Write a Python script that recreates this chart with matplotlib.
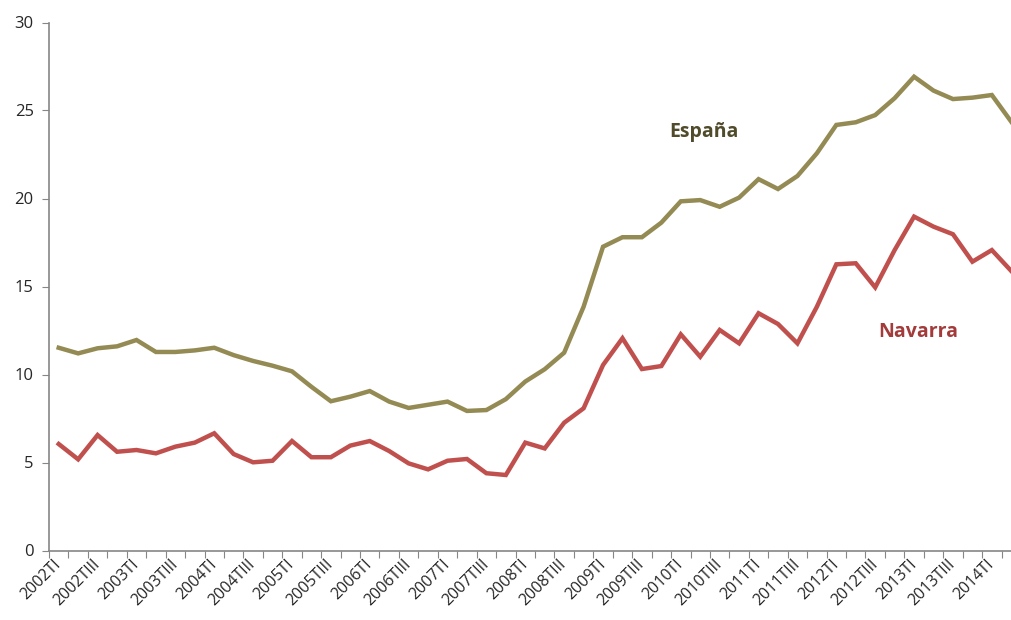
import matplotlib.pyplot as plt

# quarters 2002TI .. 2014TII
years = list(range(2002, 2015))
quarters = ["TI", "TII", "TIII", "TIV"]
periods = [f"{y}{q}" for y in years for q in quarters][:50]

espana = [11.52, 11.2, 11.49, 11.6, 11.96, 11.28, 11.28, 11.37, 11.52, 11.1,
          10.77, 10.5, 10.18, 9.3, 8.48, 8.74, 9.06, 8.46, 8.1, 8.28,
          8.46, 7.93, 7.98, 8.6, 9.6, 10.3, 11.24, 13.85, 17.26, 17.8,
          17.8, 18.63, 19.84, 19.91, 19.53, 20.05, 21.1, 20.54, 21.28, 22.57,
          24.18, 24.33, 24.74, 25.7, 26.92, 26.13, 25.65, 25.73, 25.88, 24.36]
navarra = [6.05, 5.18, 6.56, 5.61, 5.71, 5.52, 5.9, 6.13, 6.66, 5.48,
           5.01, 5.1, 6.22, 5.3, 5.3, 5.96, 6.22, 5.65, 4.95, 4.61,
           5.1, 5.2, 4.39, 4.29, 6.13, 5.8, 7.26, 8.08, 10.54, 12.06,
           10.31, 10.48, 12.28, 11.01, 12.53, 11.77, 13.48, 12.87, 11.77, 13.85,
           16.26, 16.32, 14.95, 17.07, 18.97, 18.4, 17.97, 16.41, 17.07, 15.88]

col_esp = "#948A54"
col_nav = "#C0504D"
grey = "#868686"

plt.rcParams['font.family'] = ['Open Sans', 'DejaVu Sans']

fig = plt.figure(figsize=(10.12, 6.2), dpi=100)
# axes runs a little past the right edge, like the cropped original
ax = fig.add_axes([49 / 1012, 69.5 / 620, 972 / 1012, 528 / 620])

x = list(range(len(periods)))
ax.plot(x, espana, color=col_esp, lw=3.2, solid_joinstyle='miter')
ax.plot(x, navarra, color=col_nav, lw=3.2, solid_joinstyle='miter')

ax.set_xlim(-0.5, len(periods) - 0.5)
ax.set_ylim(0, 30)
ax.set_yticks(range(0, 31, 5))

# tick marks between categories, labels every other quarter
ax.set_xticks([i - 0.5 for i in range(len(periods) + 1)])
ax.set_xticklabels([])
ax.set_xticks(x[::2], minor=True)
ax.set_xticklabels(periods[::2], minor=True, rotation=45, ha='right',
                   va='center', rotation_mode='anchor', fontsize=11.5, color="#262626")
ax.tick_params(axis='x', which='minor', length=0, pad=8)
ax.tick_params(axis='x', which='major', length=5, color=grey, direction='out')
ax.tick_params(axis='y', length=5, color=grey, labelsize=12, labelcolor="#262626", pad=6)

for s in ['top', 'right']:
    ax.spines[s].set_visible(False)
for s in ['left', 'bottom']:
    ax.spines[s].set_color(grey)
    ax.spines[s].set_linewidth(1.2)

ax.text(33.2, 23.8, "España", color="#4F4B2B", fontsize=14, fontweight='bold',
        ha='center', va='center')
ax.text(44.2, 12.4, "Navarra", color="#A23B3A", fontsize=14, fontweight='bold',
        ha='center', va='center')

fig.savefig("out.png", dpi=100)
